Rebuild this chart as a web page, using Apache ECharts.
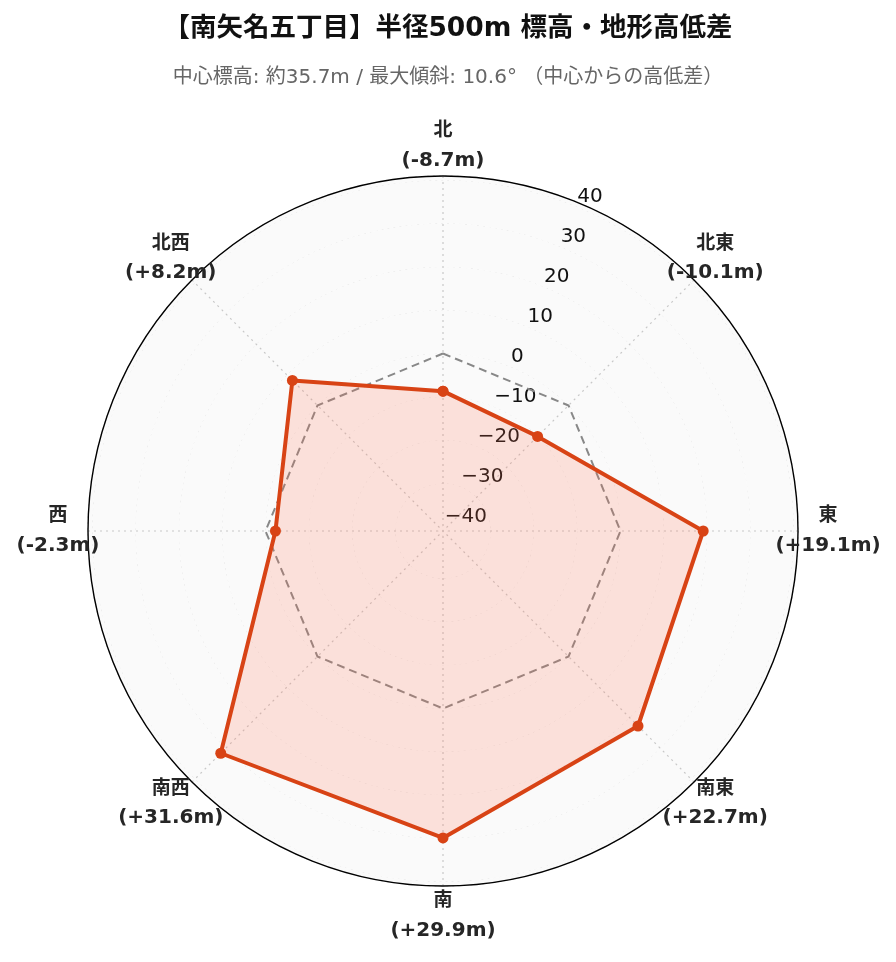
<!DOCTYPE html>
<html><head><meta charset="utf-8">
<script src="https://cdn.jsdelivr.net/npm/echarts@6/dist/echarts.min.js"></script>
<style>html,body{margin:0;padding:0;background:#fff}#c{width:896px;height:962px}</style>
</head><body><div id="c"></div>
<script>
const directions = ['北', '北東', '東', '南東', '南', '南西', '西', '北西'];
const elevationDiff = [-8.7, -10.1, 19.1, 22.7, 29.9, 31.6, -2.3, 8.2];
const referenceLevel = [0, 0, 0, 0, 0, 0, 0, 0];
const radialMin = -41;
const radialMax = 41;
const titleText = '【南矢名五丁目】半径500m 標高・地形高低差';
const subtitleText = '中心標高: 約35.7m / 最大傾斜: 10.6° （中心からの高低差）';

const CX = 443, CY = 531, R = 355;
const step = 360 / directions.length;

function closed(arr) {
  const d = arr.map((v, i) => [v, i * step]);
  d.push([arr[0], directions.length * step]);
  return d;
}
function fmtVal(v) { return '(' + (v > 0 ? '+' : '') + v.toFixed(1) + 'm)'; }

const LATIN_CJK = 'DejaVu Sans, Noto Sans CJK JP';

const chart = echarts.init(document.getElementById('c'), null, {renderer: 'canvas'});
chart.setOption({
  backgroundColor: '#ffffff',
  animation: false,
  title: {
    text: titleText,
    subtext: subtitleText,
    left: 'center',
    top: 11,
    itemGap: 25,
    textStyle: {fontFamily: LATIN_CJK, fontWeight: 'bold', fontSize: 26.5, color: '#111'},
    subtextStyle: {fontFamily: LATIN_CJK, fontSize: 20, color: '#666'}
  },
  polar: [
    {center: [CX, CY], radius: R},
    {center: [CX, CY], radius: R},
    {center: [CX, CY], radius: 385}
  ],
  angleAxis: [
    {
      polarIndex: 0, type: 'value', min: 0, max: 360, interval: step, startAngle: 90, clockwise: true,
      axisLine: {show: true, lineStyle: {color: '#000', width: 1.4}},
      axisTick: {show: false}, axisLabel: {show: false},
      splitLine: {show: true, lineStyle: {color: '#c8c8c8', type: [2, 4], width: 1.2}}
    },
    {polarIndex: 1, type: 'value', min: 0, max: 360, startAngle: 67.5, show: false},
    {polarIndex: 2, type: 'value', min: 0, max: 360, startAngle: 90, clockwise: true, show: false}
  ],
  radiusAxis: [
    {
      polarIndex: 0, type: 'value', min: radialMin, max: radialMax, splitNumber: 8,
      axisLine: {show: false}, axisTick: {show: false}, axisLabel: {show: false},
      splitLine: {show: true, lineStyle: {color: '#cccccc', type: [2, 4], width: 1.2}},
      splitArea: {show: true, areaStyle: {color: ['#fafafa', '#fafafa']}}
    },
    {
      polarIndex: 1, type: 'value', min: radialMin, max: radialMax, splitNumber: 8,
      axisLine: {show: false}, axisTick: {show: false}, splitLine: {show: false},
      axisLabel: {
        show: true, margin: 0, align: 'left', verticalAlign: 'bottom',
        color: '#111', fontSize: 20, fontFamily: 'DejaVu Sans',
        formatter: function (v) { return (Math.abs(v % 10) < 1e-9) ? String(v).replace('-', '\u2212') : ''; }
      }
    },
    {polarIndex: 2, type: 'value', min: 0, max: 1, show: false}
  ],
  series: [
    {
      name: 'ref', type: 'line', coordinateSystem: 'polar', polarIndex: 0,
      data: closed(referenceLevel), symbol: 'none', silent: true,
      lineStyle: {color: '#888', width: 2, type: [8, 5]}, z: 3
    },
    {
      name: 'diff', type: 'line', coordinateSystem: 'polar', polarIndex: 0,
      data: closed(elevationDiff), symbol: 'circle', symbolSize: 11,
      itemStyle: {color: '#D84315'},
      lineStyle: {color: '#D84315', width: 4},
      areaStyle: {color: 'rgba(255,110,80,0.19)', opacity: 1, origin: 'start'}, z: 4
    },
    {
      name: 'labels', type: 'scatter', coordinateSystem: 'polar', polarIndex: 2,
      data: directions.map((d, i) => [1, i * step]), symbolSize: 0, silent: true,
      itemStyle: {opacity: 1},
      label: {
        show: true, position: 'inside', textBorderWidth: 0,
        formatter: function (p) {
          const i = p.dataIndex;
          return '{n|' + directions[i] + '}\n{v|' + fmtVal(elevationDiff[i]) + '}';
        },
        rich: {
          n: {fontFamily: LATIN_CJK, fontWeight: 'bold', fontSize: 19, color: '#262626', lineHeight: 29, align: 'center', textBorderWidth: 0},
          v: {fontFamily: LATIN_CJK, fontWeight: 'bold', fontSize: 20, color: '#262626', lineHeight: 29, align: 'center', textBorderWidth: 0}
        }
      }
    }
  ]
});
</script></body></html>
